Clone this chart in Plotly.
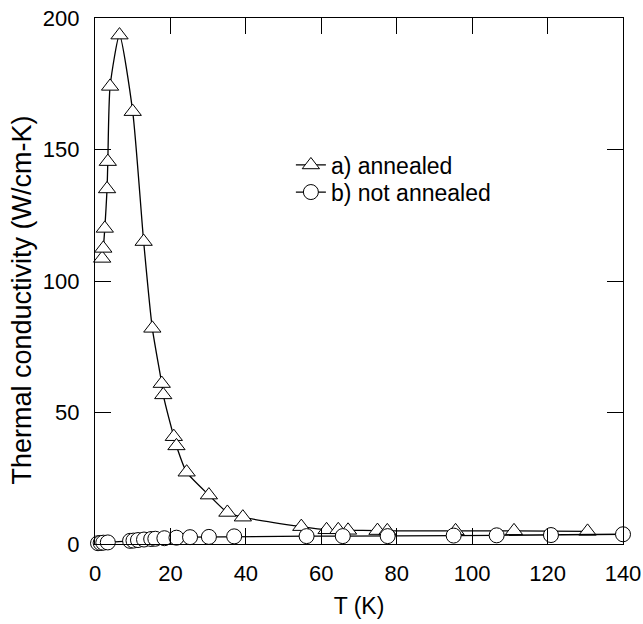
import plotly.graph_objects as go

# a) annealed
t_annealed = [1.9, 2.2, 2.6, 3.2, 3.4, 4.0, 6.5, 10.0, 12.9, 15.2, 17.7, 18.1, 20.9, 21.6, 24.3,
              30.2, 35.1, 39.2, 54.7, 61.4, 64.5, 67.1, 74.9, 77.5, 95.6, 111.1, 130.6]
k_annealed = [108.6, 112.4, 120.0, 135.0, 145.4, 174.0, 193.5, 164.4, 115.0, 82.0, 61.0, 56.7, 40.8, 37.3, 27.3,
              18.6, 12.0, 10.2, 6.6, 5.4, 5.4, 5.2, 5.1, 5.0, 5.0, 5.0, 4.8]

# b) not annealed
t_not = [0.8, 1.5, 2.2, 3.4, 9.3, 10.2, 11.4, 13.0, 14.9, 16.0, 18.4, 21.6, 25.2, 30.2, 36.9,
         56.1, 65.7, 77.6, 95.1, 106.5, 120.9, 140.0]
k_not = [0.3, 0.4, 0.5, 0.6, 1.2, 1.3, 1.5, 1.7, 1.9, 2.0, 2.2, 2.4, 2.6, 2.7, 2.9,
         3.0, 3.0, 3.0, 3.2, 3.3, 3.4, 3.7]

y_title = "Thermal conductivity (W/cm-K)"
x_title = "T (K)"

font_family = "Liberation Sans, Arial, Helvetica, sans-serif"

fig = go.Figure()
fig.add_trace(go.Scatter(
    x=t_annealed, y=k_annealed, mode="lines+markers", name="a) annealed",
    line=dict(color="black", width=1.3, shape="spline", smoothing=0.6),
    marker=dict(symbol="triangle-up", size=15, color="white", line=dict(color="black", width=1)),
    cliponaxis=False, legend="legend",
))
fig.add_trace(go.Scatter(
    x=t_not, y=k_not, mode="lines+markers", name="b) not annealed",
    line=dict(color="black", width=1.3),
    marker=dict(symbol="circle", size=15, color="white", line=dict(color="black", width=1)),
    cliponaxis=False, legend="legend2",
))

axis_common = dict(
    showline=True, linecolor="black", linewidth=1.2, mirror="ticks",
    ticks="inside", ticklen=16, tickwidth=1, tickcolor="black",
    showgrid=False, zeroline=False, automargin=False,
    tickfont=dict(family=font_family, size=22, color="black"),
)

legend_common = dict(xanchor="left", yanchor="middle", bgcolor="rgba(0,0,0,0)",
                     font=dict(size=23), borderwidth=0)

fig.update_layout(
    width=643, height=624,
    margin=dict(l=95, r=20, t=18, b=80),
    plot_bgcolor="white", paper_bgcolor="white",
    font=dict(family=font_family, size=22, color="black"),
    xaxis=dict(range=[0, 140], dtick=20, ticklabelstandoff=9,
               title=dict(text=x_title, font=dict(size=23), standoff=13), **axis_common),
    yaxis=dict(range=[0, 200], dtick=50, ticklabelstandoff=10, **axis_common),
    legend=dict(x=0.371, y=0.7205, **legend_common),
    legend2=dict(x=0.371, y=0.669, **legend_common),
    showlegend=True,
    annotations=[dict(text=y_title, textangle=-90, xref="paper", yref="paper",
                      x=-0.139, y=0.464, xanchor="center", yanchor="middle",
                      showarrow=False, font=dict(size=27, family=font_family, color="black"))],
)

fig.write_html("out.html")
